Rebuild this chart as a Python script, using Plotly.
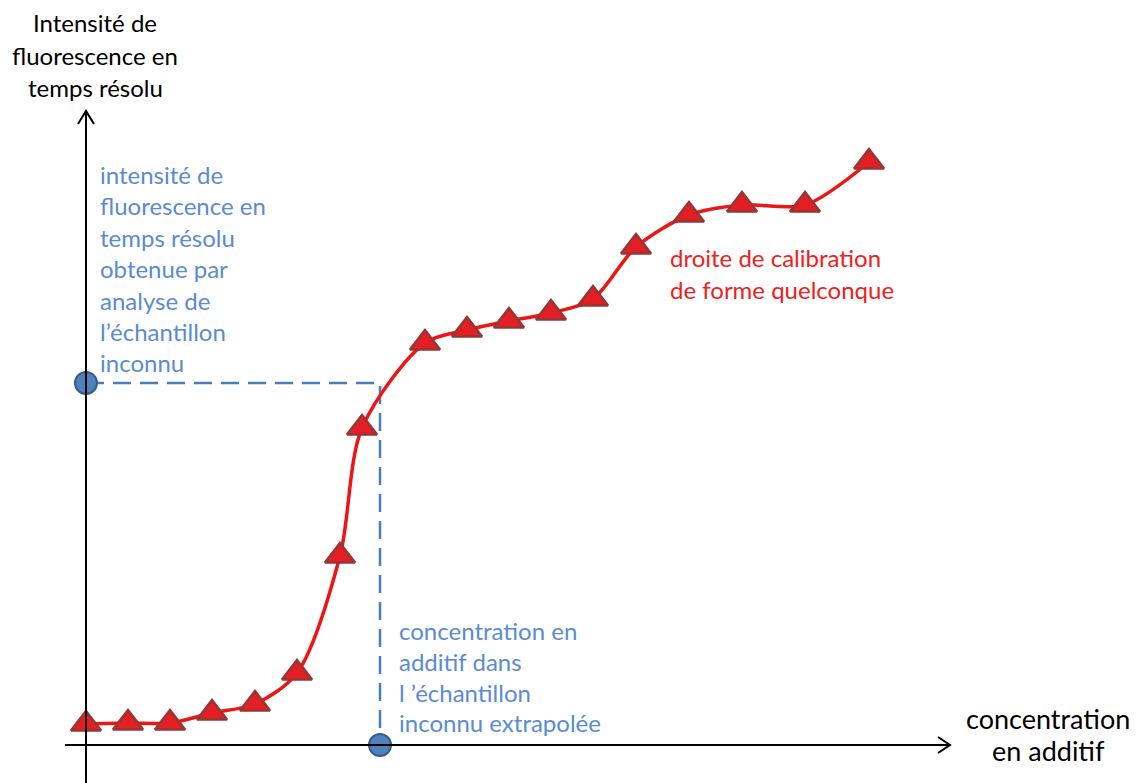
import plotly.graph_objects as go

# calibration points (x = concentration, y = intensity), origin at axes crossing
conc = [0, 42, 84, 126, 169, 211, 254, 276, 339, 381, 423, 465, 507, 550, 603, 656, 719, 783]
intens = [21, 22, 22, 32, 41, 72, 189, 317, 402, 415, 424, 432, 446, 498, 530, 540, 540, 583]

# unknown sample
unk_conc = 294
unk_intens = 362

FONT = "Lato"
BLUE_TXT = "#5b8bd0"
BLUE = "#4a7ebb"
RED = "#ee1515"

y_title = ["Intensité de", "fluorescence en", "temps résolu"]
y_title_lev = [723, 690, 658]
left_note = ["intensité de", "fluorescence en", "temps résolu", "obtenue par",
             "analyse de", "l’échantillon", "inconnu"]
left_note_lev = [571, 540, 508, 477, 445, 414, 383]
bottom_note = ["concentration en", "additif dans", "l ’échantillon", "inconnu extrapolée"]
bottom_note_lev = [115, 84, 53, 23]
curve_note = ["droite de calibration", "de forme quelconque"]
curve_note_lev = [488, 456]
x_title = ["concentration", "en additif"]
x_title_lev = [27, -5]

fig = go.Figure()

# dashed read-off lines
fig.add_trace(go.Scatter(
    x=[0, unk_conc, unk_conc], y=[unk_intens, unk_intens, 0],
    mode='lines', line=dict(color=BLUE, width=2.5, dash='18px,9px'),
    hoverinfo='skip', showlegend=False,
))

# calibration curve
fig.add_trace(go.Scatter(
    x=conc, y=intens, mode='lines+markers',
    line=dict(color=RED, width=3.5, shape='spline', smoothing=0.85),
    marker=dict(symbol='triangle-up', size=26, color='#e31e24',
                line=dict(color='#953735', width=2.5)),
    showlegend=False,
))

# axes (drawn as shapes with open arrowheads)
line_k = dict(color='black', width=2)
fig.add_shape(type='line', x0=-21, x1=864, y0=0, y1=0, line=line_k)
fig.add_shape(type='line', x0=0, x1=0, y0=-40, y1=633, line=line_k)
fig.add_shape(type='path', path='M 852,8 L 864,0 L 852,-8', line=line_k)
fig.add_shape(type='path', path='M -8,621 L 0,634 L 8,621', line=line_k)

# unknown sample markers
fig.add_trace(go.Scatter(
    x=[0, unk_conc], y=[unk_intens, 0], mode='markers',
    marker=dict(size=22, color='#4f81bd', line=dict(color='#385d8a', width=2)),
    showlegend=False,
))


def add_lines(lines, levels, x, color, anchor, size=24):
    for t, yy in zip(lines, levels):
        fig.add_annotation(x=x, y=yy, text=t, showarrow=False, xanchor=anchor,
                           yanchor='middle', font=dict(family=FONT, size=size, color=color))


add_lines(y_title, y_title_lev, 9, 'black', 'center')
add_lines(left_note, left_note_lev, 12, BLUE_TXT, 'left')
add_lines(bottom_note, bottom_note_lev, 311, BLUE_TXT, 'left')
add_lines(curve_note, curve_note_lev, 582, '#f02020', 'left')
add_lines(x_title, x_title_lev, 962, 'black', 'center', size=27)

# page body has an 8px margin, so the figure is 8px smaller and ranges start there
fig.update_layout(
    width=1129, height=775,
    margin=dict(l=0, r=0, t=0, b=0),
    plot_bgcolor='white', paper_bgcolor='white',
    xaxis=dict(range=[-78, 1051], visible=False),
    yaxis=dict(range=[-38, 737], visible=False),
    showlegend=False,
)

fig.write_html("out.html")
